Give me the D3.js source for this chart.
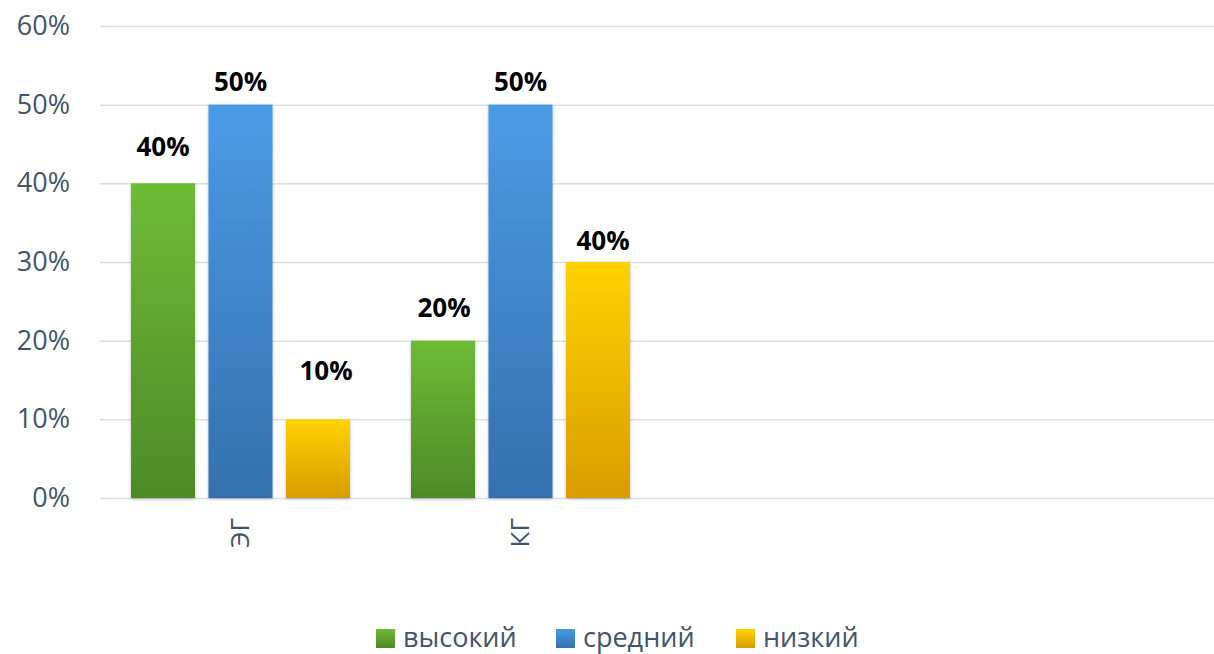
<!DOCTYPE html>
<html>
<head>
<meta charset="utf-8">
<title>ЭГ / КГ</title>
<style>
  body { margin: 0; background: #fff; }
  svg { display: block; font-family: "Open Sans", "DejaVu Sans", sans-serif; }
  .tick text { fill: #44546A; }
</style>
<script src="https://d3js.org/d3.v7.min.js"></script>
</head>
<body>
<svg width="1214" height="654"></svg>
<script>
// data
var categories = ["ЭГ", "КГ", "", ""];
var series = ["высокий", "средний", "низкий"];
var highValues = [0.4, 0.2];
var midValues = [0.5, 0.5];
var lowValues = [0.1, 0.3];
// printed data labels (the picture shows 40% on the 30% bar)
var highLabels = ["40%", "20%"];
var midLabels = ["50%", "50%"];
var lowLabels = ["10%", "40%"];
var yTicks = [0, 0.1, 0.2, 0.3, 0.4, 0.5, 0.6];

// layout only: label nudges [dx, dy above bar top]
var labelNudge = [
  [[0, 27], [0, 14], [8, 39]],
  [[1, 24], [0, 14], [5, 12]]
];

var colors = [
  ["#6EBB36", "#4D8A27"],
  ["#4A9BE5", "#3470AE"],
  ["#FFD200", "#DA9C00"]
];

var svg = d3.select("svg");
var plotLeft = 100, plotRight = 1214, plotTop = 26, plotBottom = 498;
var font = '"Open Sans", "DejaVu Sans", sans-serif';

var x0 = d3.scaleBand().domain(d3.range(categories.length)).range([plotLeft, plotLeft + 280 * categories.length]);
var x1 = d3.scaleBand().domain(series).range([31, 250]).paddingInner(0.174);
var y = d3.scaleLinear().domain([0, 0.6]).range([plotBottom, plotTop]);

var defs = svg.append("defs");
colors.forEach(function(c, i) {
  var lg = defs.append("linearGradient").attr("id", "grad" + i)
    .attr("x1", 0).attr("y1", 0).attr("x2", 0).attr("y2", 1);
  lg.append("stop").attr("offset", "0%").attr("stop-color", c[0]);
  lg.append("stop").attr("offset", "100%").attr("stop-color", c[1]);
});
var f = defs.append("filter").attr("id", "shadow")
  .attr("x", "-20%").attr("y", "-5%").attr("width", "140%").attr("height", "115%");
f.append("feDropShadow").attr("dx", 0).attr("dy", 1).attr("stdDeviation", 1.6)
  .attr("flood-color", "#000").attr("flood-opacity", 0.28);

// gridlines + y labels
var yAxis = svg.append("g")
  .attr("transform", "translate(" + plotLeft + ",0)")
  .call(d3.axisLeft(y).tickValues(yTicks).tickSize(-(plotRight - plotLeft)).tickPadding(30)
    .tickFormat(d3.format(".0%")))
  .attr("font-family", font);
yAxis.select(".domain").remove();
yAxis.selectAll(".tick line").attr("stroke", "#D9DEE6").attr("stroke-width", 1.5);
yAxis.selectAll(".tick text").attr("font-size", "27px");

// category axis
var xAxis = svg.append("g")
  .attr("transform", "translate(0," + plotBottom + ")")
  .call(d3.axisBottom(x0).tickSize(0).tickFormat(function(i) { return categories[i]; }))
  .attr("font-family", font);
xAxis.select(".domain").remove();
xAxis.selectAll(".tick text")
  .attr("font-size", "26px")
  .attr("text-anchor", "end")
  .attr("transform", "translate(0,20) rotate(-90)")
  .attr("x", 0).attr("y", 0).attr("dy", "0.35em");

var valueSets = [highValues, midValues, lowValues];
var labelSets = [highLabels, midLabels, lowLabels];

var rows = [];
valueSets.forEach(function(vals, s) {
  vals.forEach(function(v, c) {
    rows.push({ s: s, c: c, value: v, label: labelSets[s][c] });
  });
});

svg.append("g").selectAll("rect")
  .data(rows)
  .enter().append("rect")
  .attr("x", function(d) { return x0(d.c) + x1(series[d.s]); })
  .attr("y", function(d) { return y(d.value); })
  .attr("width", x1.bandwidth())
  .attr("height", function(d) { return plotBottom - y(d.value); })
  .attr("fill", function(d) { return "url(#grad" + d.s + ")"; })
  .attr("filter", "url(#shadow)");

svg.append("g").selectAll("text")
  .data(rows)
  .enter().append("text")
  .attr("x", function(d) { return x0(d.c) + x1(series[d.s]) + x1.bandwidth() / 2 + labelNudge[d.c][d.s][0]; })
  .attr("y", function(d) { return y(d.value) - labelNudge[d.c][d.s][1]; })
  .attr("text-anchor", "middle")
  .attr("font-size", "26px")
  .attr("font-weight", "bold")
  .attr("fill", "#000")
  .text(function(d) { return d.label; });

// legend
var legend = svg.append("g").selectAll("g")
  .data(series)
  .enter().append("g")
  .attr("transform", function(d, i) { return "translate(" + (376 + i * 180) + ",629)"; });
legend.append("rect")
  .attr("width", 19).attr("height", 19)
  .attr("fill", function(d, i) { return "url(#grad" + i + ")"; });
legend.append("text")
  .attr("x", 27).attr("y", 18)
  .attr("font-size", "27px")
  .attr("fill", "#44546A")
  .text(function(d) { return d; });
</script>
</body>
</html>
